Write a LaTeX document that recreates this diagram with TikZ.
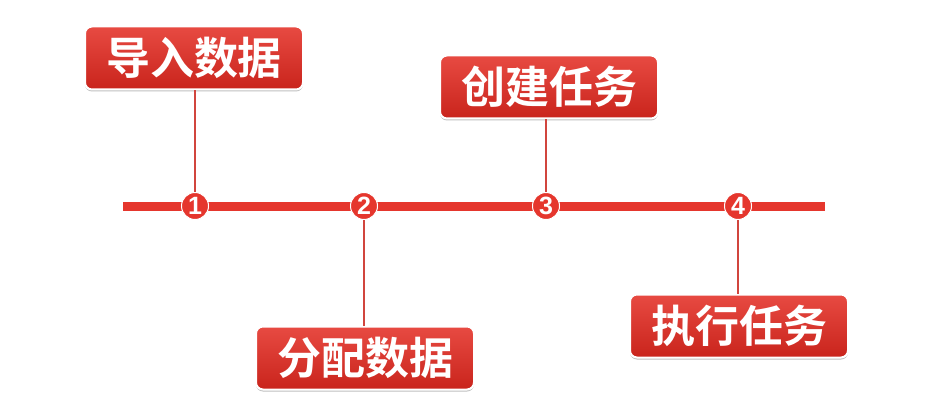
\documentclass[tikz,border=0pt]{standalone}
\usepackage{fontspec}
\newfontfamily\cjk{Noto Sans CJK SC Bold}
\setsansfont{Liberation Sans}
\usetikzlibrary{shadows}
\definecolor{StepRed}{HTML}{E5362D}
\definecolor{StepDark}{HTML}{C9241C}
\tikzset{
  % Box styles
  stepbox/.style={rectangle, rounded corners=7pt, draw=white, line width=2pt, top color=StepRed!90!white, bottom color=StepDark, minimum width=218pt, minimum height=63pt, text=white, font=\cjk\fontsize{44}{44}\selectfont, inner sep=0pt, drop shadow={shadow xshift=0pt, shadow yshift=-2pt, opacity=0.25, fill=black}},
  % Dot styles
  stepdot/.style={circle, fill=StepRed, draw=white, line width=1pt, minimum size=27pt, inner sep=0pt, text=white, font=\sffamily\bfseries\fontsize{25}{25}\selectfont},
  % Line styles
  axis/.style={StepRed, line width=9pt},
  link/.style={StepDark!85!white, line width=2.5pt}
}
\begin{document}
\begin{tikzpicture}[x=1pt, y=-1pt]
  \useasboundingbox (0,0) rectangle (930,420);
  % Time axis
  \draw[axis] (123,206) -- (825,206);

  % Step dots
  \node[stepdot] (d1) at (195,206) {1};
  \node[stepdot] (d2) at (364,206) {2};
  \node[stepdot] (d3) at (546,206) {3};
  \node[stepdot] (d4) at (738,206) {4};

  % Step boxes
  \node[stepbox] (import) at (194,58) {导入数据};
  \node[stepbox] (create) at (549,87) {创建任务};
  \node[stepbox] (assign) at (365,358) {分配数据};
  \node[stepbox] (run) at (739,326) {执行任务};

  % Links
  \draw[link] (import.south -| d1) -- (d1.north);
  \draw[link] (create.south -| d3) -- (d3.north);
  \draw[link] (d2.south) -- (assign.north -| d2);
  \draw[link] (d4.south) -- (run.north -| d4);
\end{tikzpicture}
\end{document}
